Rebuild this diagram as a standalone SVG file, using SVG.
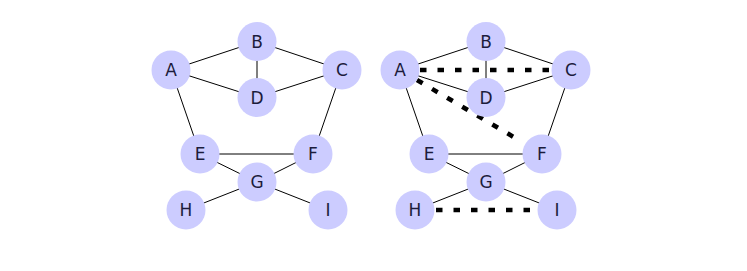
<svg xmlns="http://www.w3.org/2000/svg" width="747" height="271" viewBox="0 0 747 271">
<style>
.n circle{fill:#ccccff;stroke:none}
.n text{font-family:"DejaVu Sans",Verdana,sans-serif;font-size:17px;fill:#1c1c3c;text-anchor:middle;dominant-baseline:central}
.e line{stroke:#000;stroke-width:1}
.e line.d{stroke-width:4.6;stroke-dasharray:6.5 11}
</style>
<rect width="747" height="271" fill="#fff"/>
<g id="connectors" class="e">
<line x1="171" y1="70" x2="257" y2="41.5"/>
<line x1="171" y1="70" x2="257" y2="97.5"/>
<line x1="257" y1="41.5" x2="342" y2="70"/>
<line x1="257" y1="41.5" x2="257" y2="97.5"/>
<line x1="257" y1="97.5" x2="342" y2="70"/>
<line x1="171" y1="70" x2="200" y2="154"/>
<line x1="342" y1="70" x2="313" y2="154"/>
<line x1="200" y1="154" x2="313" y2="154"/>
<line x1="200" y1="154" x2="257" y2="182"/>
<line x1="313" y1="154" x2="257" y2="182"/>
<line x1="257" y1="182" x2="186" y2="210"/>
<line x1="257" y1="182" x2="328" y2="210"/>

<line x1="400" y1="70" x2="486" y2="41.5"/>
<line x1="400" y1="70" x2="486" y2="97.5"/>
<line x1="486" y1="41.5" x2="571" y2="70"/>
<line x1="486" y1="41.5" x2="486" y2="97.5"/>
<line x1="486" y1="97.5" x2="571" y2="70"/>
<line x1="400" y1="70" x2="429" y2="154"/>
<line x1="571" y1="70" x2="542" y2="154"/>
<line x1="429" y1="154" x2="542" y2="154"/>
<line x1="429" y1="154" x2="486" y2="182"/>
<line x1="542" y1="154" x2="486" y2="182"/>
<line x1="486" y1="182" x2="415" y2="210"/>
<line x1="486" y1="182" x2="557" y2="210"/>
<line class="d" x1="420" y1="70" x2="552" y2="70"/>
<line class="d" x1="417" y1="80" x2="517" y2="139"/>
<line class="d" x1="436" y1="210" x2="537" y2="210"/>
</g>
<g id="L_A" class="n"><circle cx="171" cy="70" r="19.5"/><text x="171" y="70">A</text></g>
<g id="L_B" class="n"><circle cx="257" cy="41.5" r="19.5"/><text x="257" y="41.5">B</text></g>
<g id="L_C" class="n"><circle cx="342" cy="70" r="19.5"/><text x="342" y="70">C</text></g>
<g id="L_D" class="n"><circle cx="257" cy="97.5" r="19.5"/><text x="257" y="97.5">D</text></g>
<g id="L_E" class="n"><circle cx="200" cy="154" r="19.5"/><text x="200" y="154">E</text></g>
<g id="L_F" class="n"><circle cx="313" cy="154" r="19.5"/><text x="313" y="154">F</text></g>
<g id="L_G" class="n"><circle cx="257" cy="182" r="19.5"/><text x="257" y="182">G</text></g>
<g id="L_H" class="n"><circle cx="186" cy="210" r="19.5"/><text x="186" y="210">H</text></g>
<g id="L_I" class="n"><circle cx="328" cy="210" r="19.5"/><text x="328" y="210">I</text></g>

<g id="R_A" class="n"><circle cx="400" cy="70" r="19.5"/><text x="400" y="70">A</text></g>
<g id="R_B" class="n"><circle cx="486" cy="41.5" r="19.5"/><text x="486" y="41.5">B</text></g>
<g id="R_C" class="n"><circle cx="571" cy="70" r="19.5"/><text x="571" y="70">C</text></g>
<g id="R_D" class="n"><circle cx="486" cy="97.5" r="19.5"/><text x="486" y="97.5">D</text></g>
<g id="R_E" class="n"><circle cx="429" cy="154" r="19.5"/><text x="429" y="154">E</text></g>
<g id="R_F" class="n"><circle cx="542" cy="154" r="19.5"/><text x="542" y="154">F</text></g>
<g id="R_G" class="n"><circle cx="486" cy="182" r="19.5"/><text x="486" y="182">G</text></g>
<g id="R_H" class="n"><circle cx="415" cy="210" r="19.5"/><text x="415" y="210">H</text></g>
<g id="R_I" class="n"><circle cx="557" cy="210" r="19.5"/><text x="557" y="210">I</text></g>
</svg>
